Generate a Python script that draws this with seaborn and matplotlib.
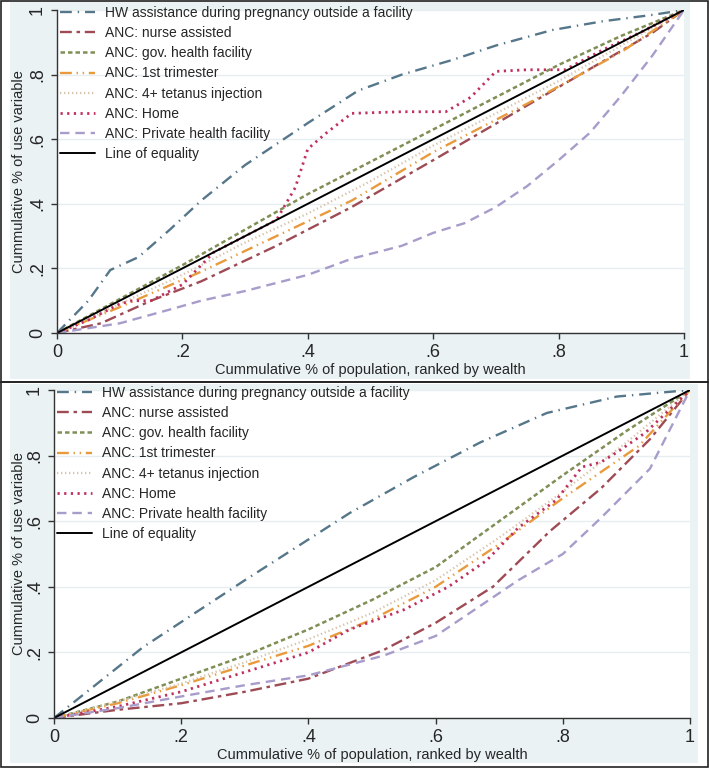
import numpy as np
import pandas as pd
import matplotlib
matplotlib.use("Agg")
import matplotlib.pyplot as plt
from matplotlib.patches import Rectangle
import seaborn as sns

sns.set_theme(style="white")
plt.rcParams['font.family'] = ['Liberation Sans', 'DejaVu Sans']

labels = ["HW assistance during pregnancy outside a facility",
          "ANC: nurse assisted",
          "ANC: gov. health facility",
          "ANC: 1st trimester",
          "ANC: 4+ tetanus injection",
          "ANC: Home",
          "ANC: Private health facility",
          "Line of equality"]

# top panel curves (x = cumulative population share, y = cumulative share of use)
top_hw_x = [0, .05, .085, .13, .18, .23, .3, .4, .48, .55, .63, .7, .79, .87, .95, 1]
top_hw_y = [0, .10, .195, .235, .32, .41, .52, .65, .75, .80, .845, .89, .938, .965, .985, 1]
top_nurse_x = [0, .07, .15, .23, .35, .47, .6, .79, .95, 1]
top_nurse_y = [0, .03, .10, .16, .27, .39, .535, .75, .93, 1]
top_gov_x = [0, .1, .2, .3, .4, .5, .6, .7, .8, .9, 1]
top_gov_y = [0, .105, .21, .32, .43, .53, .63, .73, .83, .92, 1]
top_tri_x = [0, .1, .23, .35, .47, .6, .75, .9, 1]
top_tri_y = [0, .08, .19, .30, .41, .56, .71, .87, 1]
top_tet_x = [0, .1, .2, .3, .4, .5, .6, .7, .8, .9, 1]
top_tet_y = [0, .09, .18, .28, .37, .47, .58, .68, .78, .89, 1]
top_home_x = [0, .05, .1, .12, .15, .2, .25, .3, .35, .38, .4, .43, .47, .55, .62, .66, .70, .75, .81, .87, .93, 1]
top_home_y = [0, .04, .09, .10, .10, .15, .25, .30, .35, .45, .57, .62, .68, .685, .685, .73, .81, .815, .815, .876, .93, 1]
top_priv_x = [0, .1, .175, .23, .3, .4, .47, .55, .6, .65, .7, .75, .8, .85, .9, .95, 1]
top_priv_y = [0, .03, .07, .10, .13, .18, .23, .27, .31, .34, .39, .455, .535, .62, .735, .86, 1]

# bottom panel curves
bot_hw_x = [0, .14, .3, .465, .566, .67, .775, .885, 1]
bot_hw_y = [0, .216, .42, .625, .735, .84, .93, .98, 1]
bot_nurse_x = [0, .1, .2, .3, .4, .518, .6, .69, .78, .86, .937, 1]
bot_nurse_y = [0, .025, .045, .08, .12, .207, .29, .40, .57, .70, .85, 1]
bot_gov_x = [0, .1, .2, .3, .4, .5, .6, .7, .8, .9, 1]
bot_gov_y = [0, .05, .12, .19, .27, .36, .46, .60, .74, .875, 1]
bot_tri_x = [0, .1, .2, .3, .4, .5, .6, .7, .75, .8, .92, 1]
bot_tri_y = [0, .045, .10, .16, .22, .30, .40, .53, .60, .67, .83, 1]
bot_tet_x = [0, .1, .2, .3, .4, .5, .6, .7, .8, .9, 1]
bot_tet_y = [0, .05, .105, .17, .24, .32, .42, .55, .69, .84, 1]
bot_home_x = [0, .1, .2, .3, .4, .465, .55, .62, .68, .73, .79, .83, .86, .885, .93, 1]
bot_home_y = [0, .035, .08, .14, .20, .27, .33, .40, .48, .58, .665, .765, .78, .81, .87, 1]
bot_priv_x = [0, .1, .198, .3, .4, .518, .6, .73, .8, .86, .937, 1]
bot_priv_y = [0, .03, .065, .10, .13, .19, .25, .42, .50, .61, .76, 1]

eq_x = [0, 1]
eq_y = [0, 1]

colors = ["#56778A", "#9E4B55", "#7F8F55", "#E89A3C", "#D8C4AC", "#C0305E", "#A89CCB", "black"]
styles = [(0, (5, 2.5, 0.6, 2.5)), (0, (5, 2, 1.5, 2)), (0, (1.8, 1.2)),
          (0, (5, 2, 0.6, 2, 0.6, 2)), (0, (0.6, 1.2)), (0, (0.8, 1.6)),
          (0, (4, 2.5)), "-"]
widths = [1.7, 1.7, 1.8, 1.7, 1.6, 2.0, 1.7, 1.4]

panels = [
    [(top_hw_x, top_hw_y), (top_nurse_x, top_nurse_y), (top_gov_x, top_gov_y),
     (top_tri_x, top_tri_y), (top_tet_x, top_tet_y), (top_home_x, top_home_y),
     (top_priv_x, top_priv_y), (eq_x, eq_y)],
    [(bot_hw_x, bot_hw_y), (bot_nurse_x, bot_nurse_y), (bot_gov_x, bot_gov_y),
     (bot_tri_x, bot_tri_y), (bot_tet_x, bot_tet_y), (bot_home_x, bot_home_y),
     (bot_priv_x, bot_priv_y), (eq_x, eq_y)],
]

W, H = 709, 769
fig = plt.figure(figsize=(W / 100, H / 100), dpi=100, facecolor="white")


def fx(px):
    return px / W


def fy(py):
    return 1 - py / H


bg = "#EAF2F3"
# panel backgrounds and borders (pixel boxes)
for (x0, y0, x1, y1), (bx0, by0, bx1, by1) in [((10, 1, 690, 379), (1, 1, 708, 382)),
                                              ((10, 384, 698, 763), (1, 382, 708, 767))]:
    fig.patches.append(Rectangle((fx(x0), fy(y1)), fx(x1 - x0), (y1 - y0) / H,
                                 transform=fig.transFigure, facecolor=bg, edgecolor="none", zorder=-2))
    fig.patches.append(Rectangle((fx(bx0), fy(by1)), fx(bx1 - bx0), (by1 - by0) / H,
                                 transform=fig.transFigure, facecolor="none", edgecolor="#222222",
                                 lw=1.2, zorder=-1))

axes_px = [(57, 10, 684, 333), (54, 390, 690, 718)]
ticks = [0, .2, .4, .6, .8, 1]
tick_labels = ["0", ".2", ".4", ".6", ".8", "1"]

for (l, t, r, b), series in zip(axes_px, panels):
    ax = fig.add_axes([fx(l), fy(b), fx(r - l), (b - t) / H])
    ax.set_zorder(2)
    ax.set_facecolor("white")
    for (xs, ys), lab, c, ls, lw in zip(series, labels, colors, styles, widths):
        d = pd.DataFrame({"x": xs, "y": ys})
        sns.lineplot(data=d, x="x", y="y", ax=ax, color=c, linestyle=ls, lw=lw, label=lab,
                     estimator=None, sort=False)
    ax.set_xlim(0, 1)
    ax.set_ylim(0, 1)
    ax.set_xticks(ticks)
    ax.set_xticklabels(tick_labels, fontsize=13)
    ax.set_yticks(ticks)
    ax.set_yticklabels(tick_labels, fontsize=13, rotation=90, va="center")
    ax.tick_params(direction="out", length=4, width=1, color="#333333", pad=4, left=True, bottom=True)
    ax.grid(axis="y", color="#E6EEF0", lw=1)
    for s in ["top", "right"]:
        ax.spines[s].set_visible(False)
    for s in ["left", "bottom"]:
        ax.spines[s].set_color("#333333")
        ax.spines[s].set_linewidth(1)
    ax.set_xlabel("Cummulative % of population, ranked by wealth", fontsize=10.5, labelpad=1)
    ax.set_ylabel("Cummulative % of use variable", fontsize=10.5)
    ax.yaxis.set_label_coords((26 - l) / (r - l), 0.5)
    ax.legend(loc="upper left", bbox_to_anchor=(0.005, 1.012), frameon=False, fontsize=10,
              handlelength=2.5, handletextpad=0.7, labelspacing=0.44, borderpad=0, borderaxespad=0)

fig.savefig("out.png", dpi=100, facecolor="white")
